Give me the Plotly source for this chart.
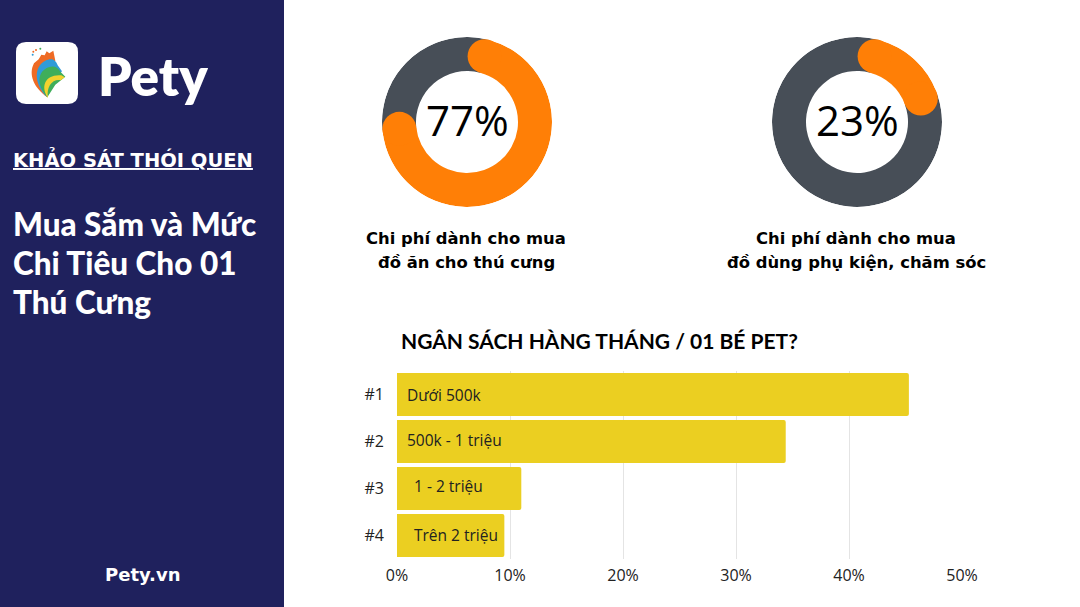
import re
import plotly.graph_objects as go

# donut data, percent
donut_shares = [77, 23]
donut_labels = ["77%", "23%"]
donut_captions = [
    ["Chi phí dành cho mua", "đồ ăn cho thú cưng"],
    ["Chi phí dành cho mua", "đồ dùng phụ kiện, chăm sóc"],
]

# monthly budget bars, percent
rank_labels = ["#1", "#2", "#3", "#4"]
budget_labels = ["Dưới 500k", "500k - 1 triệu", "1 - 2 triệu", "Trên 2 triệu"]
budget_values = [45.3, 34.4, 11.0, 9.5]
budget_ticks = [0, 10, 20, 30, 40, 50]
budget_tick_text = ["0%", "10%", "20%", "30%", "40%", "50%"]

title_lines = ["Mua Sắm và Mức", "Chi Tiêu Cho 01", "Thú Cưng"]

W, H = 1080, 607
NAVY = "#1F215D"
GREY = "#474E57"
ORANGE = "#FF7F06"
YELLOW = "#EBCF21"
SANS = "Open Sans"
HEAD = "Lato"
WIDE = "DejaVu Sans"


def px_x(x):
    return x / W


def px_y(y):
    return 1 - y / H


def path_px(path):
    # pixel coords -> paper coords
    def conv(m):
        return f"{float(m.group(1)) / W:.5f},{1 - float(m.group(2)) / H:.5f}"
    return re.sub(r"(-?[\d.]+),(-?[\d.]+)", conv, path)


def logo_path(path):
    def conv(m):
        return f"{12 + float(m.group(1)) / 3:.2f},{38 + float(m.group(2)) / 3:.2f}"
    return path_px(re.sub(r"(-?[\d.]+),(-?[\d.]+)", conv, path))


fig = go.Figure()

# donuts on polar subplots, ring 51-85 px
ring_in, ring_out = 51, 85
cap_deg = 14
gap_deg = 1
centers = [467, 857]
cy = 122

for i, share in enumerate(donut_shares):
    sub = "polar" if i == 0 else "polar2"
    span = share * 3.6
    a0 = gap_deg + cap_deg
    a1 = gap_deg + span - cap_deg
    fig.add_trace(go.Barpolar(
        theta=[(a0 + a1) / 2, (a1 + a0 + 360) / 2],
        width=[a1 - a0, 360 - (a1 - a0)],
        base=[ring_in, ring_in],
        r=[ring_out - ring_in] * 2,
        marker=dict(color=[ORANGE, GREY], line_width=0),
        subplot=sub, showlegend=False, hoverinfo="skip",
    ))
    # rounded ends of the orange arc
    fig.add_trace(go.Scatterpolar(
        theta=[a0, a1],
        r=[(ring_in + ring_out) / 2] * 2,
        mode="markers",
        marker=dict(color=ORANGE, size=ring_out - ring_in, line_width=0),
        subplot=sub, showlegend=False, hoverinfo="skip",
    ))

fig.add_trace(go.Bar(
    x=budget_values, y=rank_labels, orientation="h",
    marker=dict(color=YELLOW, line_width=0, cornerradius=2),
    showlegend=False, hoverinfo="skip",
))


def polar_layout(cx):
    return dict(
        domain=dict(x=[px_x(cx - ring_out), px_x(cx + ring_out)],
                    y=[px_y(cy + ring_out), px_y(cy - ring_out)]),
        bgcolor="rgba(0,0,0,0)",
        radialaxis=dict(visible=False, range=[0, ring_out]),
        angularaxis=dict(visible=False, direction="clockwise", rotation=90),
        barmode="overlay",
    )


shapes = [dict(type="rect", xref="paper", yref="paper", x0=0, x1=px_x(284), y0=0, y1=1,
               fillcolor=NAVY, line_width=0, layer="below")]

# logo
shapes.append(dict(type="path", xref="paper", yref="paper", fillcolor="white", line_width=0,
                   path=path_px("M 26,42 L 68,42 Q 78,42 78,52 L 78,94 Q 78,104 68,104 "
                                "L 26,104 Q 16,104 16,94 L 16,52 Q 16,42 26,42 Z")))
logo_parts = [
    ("#EE6A24", "M 106,178 C 66,150 48,110 66,76 L 80,64 L 88,50 L 98,52 L 104,40 L 112,46 L 124,38 L 130,68 L 110,110 Z"),
    ("#2F9BD8", "M 106,178 C 66,140 64,86 100,68 C 116,60 130,62 137,82 L 150,100 L 120,130 Z"),
    ("#3FAE5A", "M 106,178 C 72,140 76,100 110,88 C 126,82 138,88 146,102 L 160,116 L 130,140 Z"),
    ("#F2D22E", "M 108,180 C 84,145 100,108 148,112 L 158,118 L 146,127 C 122,122 102,146 108,180 Z"),
]
for color, d in logo_parts:
    shapes.append(dict(type="path", xref="paper", yref="paper", fillcolor=color, line_width=0,
                       path=logo_path(d)))
for (dx, dy, color) in [(62, 50, "#2F9BD8"), (72, 36, "#EE6A24"), (85, 32, "#3FAE5A"), (64, 41, "#EE6A24")]:
    x, y = 12 + dx / 3, 38 + dy / 3
    shapes.append(dict(type="circle", xref="paper", yref="paper", fillcolor=color, line_width=0,
                       x0=px_x(x - 1), x1=px_x(x + 1), y0=px_y(y + 1), y1=px_y(y - 1)))


def text(x, y, s, size, color="black", family=SANS, anchor="left", weight=400):
    return dict(xref="paper", yref="paper", x=px_x(x), y=px_y(y), text=s,
                showarrow=False, xanchor=anchor, yanchor="middle",
                font=dict(size=size, color=color, family=family, weight=weight), borderpad=0)


annotations = [
    text(97, 75, "Pety", 53, "white", HEAD, weight=800),
    text(12, 160, "<u>KHẢO SÁT THÓI QUEN</u>", 19.5, "white", WIDE, weight=700),
    text(142, 574, "Pety.vn", 18, "white", WIDE, "center", 700),
    text(400, 340, "NGÂN SÁCH HÀNG THÁNG / 01 BÉ PET?", 21, "black", HEAD, weight=700),
]
for i, line in enumerate(title_lines):
    annotations.append(text(11.5, 224 + i * 39, line, 31.5, "white", HEAD, weight=900))
for cx, label, caption in zip(centers, donut_labels, donut_captions):
    annotations.append(text(cx, cy - 2, label, 42, "black", SANS, "center"))
    for j, line in enumerate(caption):
        annotations.append(text(cx - 1, 239 + j * 24, line, 16.4, "black", WIDE, "center", 700))

# bar labels sit inside the bars, the last two are indented more
label_shift = [8, 8, 15, 15]
label_lift = [0, 2, 3, 1]
for rank, label, shift, lift in zip(rank_labels, budget_labels, label_shift, label_lift):
    annotations.append(dict(xref="x", yref="y", x=0, y=rank, text=label, showarrow=False,
                            xanchor="left", xshift=shift, yshift=lift,
                            font=dict(size=15.5, color="#222222", family=SANS)))

fig.update_layout(
    width=W, height=H,
    margin=dict(l=0, r=0, t=0, b=0),
    paper_bgcolor="white", plot_bgcolor="rgba(0,0,0,0)",
    polar=polar_layout(centers[0]),
    polar2=polar_layout(centers[1]),
    bargap=0.09,
    shapes=shapes,
    annotations=annotations,
    xaxis=dict(domain=[px_x(397), px_x(962)], range=[0, 50], tickvals=budget_ticks,
               ticktext=budget_tick_text, automargin=False,
               showgrid=True, gridcolor="#E4E4E4", gridwidth=1, zeroline=False, showline=False,
               ticks="", ticklabelstandoff=5, tickfont=dict(size=16, color="#222222", family=SANS)),
    yaxis=dict(domain=[px_y(559), px_y(371)], autorange="reversed", showgrid=False, zeroline=False,
               showline=False, ticks="", ticklabelstandoff=12, automargin=False,
               tickfont=dict(size=16, color="#222222", family=SANS)),
)

# page has default body margins, drop them so the figure fills the window
fig.write_html("out.html", config={"displayModeBar": False},
               post_script="document.body.style.margin='0';document.body.style.overflow='hidden';")
